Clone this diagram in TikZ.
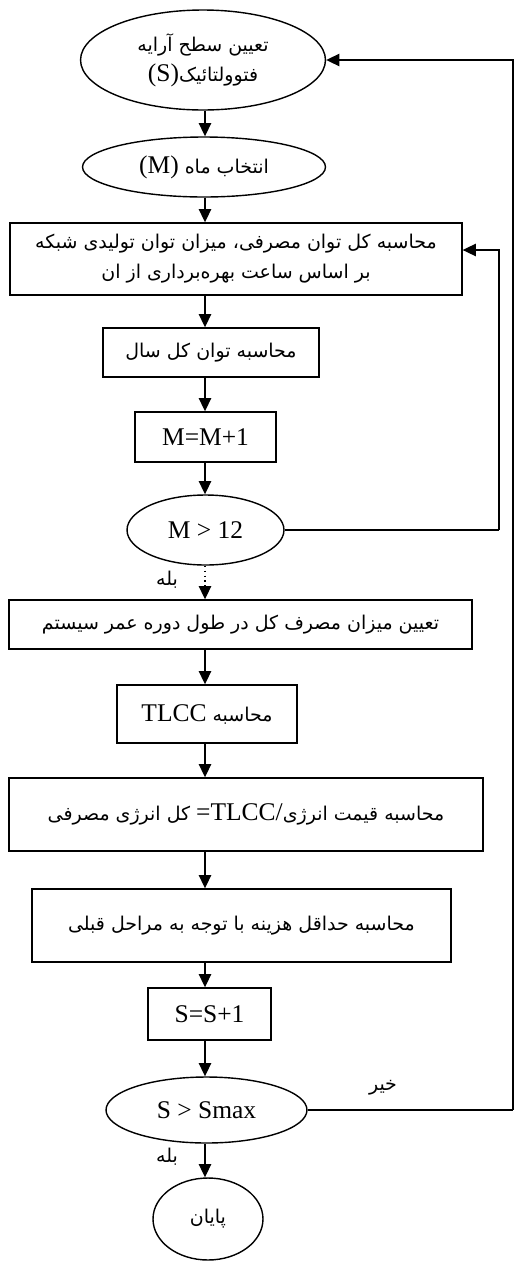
\documentclass[tikz,border=0pt]{standalone}
\usepackage{fontspec}
\setmainfont{Liberation Serif}
\newfontfamily\farsifont[Script=Arabic]{DejaVu Sans}
\TeXXeTstate=1
\usepackage{tikz}
\usetikzlibrary{positioning,shapes.geometric,arrows.meta}

\newcommand{\fa}[1]{{\farsifont\fontsize{10.8}{17}\selectfont\beginR #1\endR}}
\newcommand{\en}[1]{\beginL{\rmfamily\fontsize{14.5}{17}\selectfont #1}\endL}

\tikzset{
	stepbox/.style={rectangle, draw, line width=0.8pt, inner sep=0pt, align=center, font=\fontsize{14.5}{17}\selectfont},
	oval/.style={ellipse, draw, line width=0.8pt, inner sep=0pt, align=center, font=\fontsize{14.5}{17}\selectfont},
	flow/.style={-{Triangle[length=7.5pt, width=7pt]}, line width=0.8pt},
	link/.style={line width=0.8pt},
	lbl/.style={inner sep=0pt}
}

\begin{document}
\begin{tikzpicture}[x=0.02cm, y=-0.02cm]
	\useasboundingbox (0,0) rectangle (518,1262);

	\node[oval, minimum width=4.9cm, minimum height=2.0cm] (area) at (203,60) {\fa{تعیین سطح آرایه}\\ \fa{فتوولتائیک\en{(S)}}};
	\node[oval, minimum width=4.86cm, minimum height=1.2cm] (month) at (204,167) {\fa{انتخاب ماه \en{(M)}}};
	\node[stepbox, minimum width=9.04cm, minimum height=1.44cm] (power) at (236,259) {\fa{محاسبه کل توان مصرفی، میزان توان تولیدی شبکه}\\ \fa{بر اساس ساعت بهره‌برداری از ان}};
	\node[stepbox, minimum width=4.32cm, minimum height=0.98cm] (year) at (211,352.5) {\fa{محاسبه توان کل سال}};
	\node[stepbox, minimum width=2.82cm, minimum height=1.0cm] (incm) at (205.5,437) {M=M+1};
	\node[oval, minimum width=3.14cm, minimum height=1.4cm] (testm) at (205.5,530) {M > 12};
	\node[stepbox, minimum width=9.26cm, minimum height=0.98cm] (life) at (240.5,624.5) {\fa{تعیین میزان مصرف کل در طول دوره عمر سیستم}};
	\node[stepbox, minimum width=3.6cm, minimum height=1.16cm] (tlcc) at (207,714) {\fa{محاسبه \en{TLCC}}};
	\node[stepbox, minimum width=9.48cm, minimum height=1.46cm] (price) at (246,814.5) {\fa{محاسبه قیمت انرژی\en{/}\en{TLCC}\en{=} کل انرژی مصرفی}};
	\node[stepbox, minimum width=8.38cm, minimum height=1.46cm] (mincost) at (241.5,925.5) {\fa{محاسبه حداقل هزینه با توجه به مراحل قبلی}};
	\node[stepbox, minimum width=2.46cm, minimum height=1.04cm] (incs) at (209.5,1014) {S=S+1};
	\node[oval, minimum width=4.02cm, minimum height=1.32cm] (tests) at (206.5,1110) {S > Smax};
	\node[oval, minimum width=2.2cm, minimum height=1.64cm] (finish) at (208,1219) {\fa{پایان}};

	\node[lbl] (yes1) at (167,580) {\fa{بله}};
	\node[lbl] (no2) at (383,1088) {\fa{خیر}};
	\node[lbl] (yes2) at (167,1157) {\fa{بله}};

	\coordinate (ax) at (205,0);
	\coordinate (loopm) at (499,0);
	\coordinate (loops) at (513,0);

	\draw[flow] (ax |- area.south) -- (ax |- month.north);
	\draw[flow] (ax |- month.south) -- (ax |- power.north);
	\draw[flow] (ax |- power.south) -- (ax |- year.north);
	\draw[flow] (ax |- year.south) -- (ax |- incm.north);
	\draw[flow] (ax |- incm.south) -- (ax |- testm.north);
	\draw[flow, dotted] (ax |- testm.south) -- (ax |- life.north);
	\draw[flow] (ax |- life.south) -- (ax |- tlcc.north);
	\draw[flow] (ax |- tlcc.south) -- (ax |- price.north);
	\draw[flow] (ax |- price.south) -- (ax |- mincost.north);
	\draw[flow] (ax |- mincost.south) -- (ax |- incs.north);
	\draw[flow] (ax |- incs.south) -- (ax |- tests.north);
	\draw[flow] (ax |- tests.south) -- (ax |- finish.north);

	\draw[link] (testm.east) -- (testm.east -| loopm) coordinate (m1);
	\draw[flow] (m1) |- ([yshift=0.18cm]power.east);
	\draw[link] (tests.east) -- (tests.east -| loops) coordinate (s1);
	\draw[flow] (s1) |- (area.east);
\end{tikzpicture}
\end{document}
